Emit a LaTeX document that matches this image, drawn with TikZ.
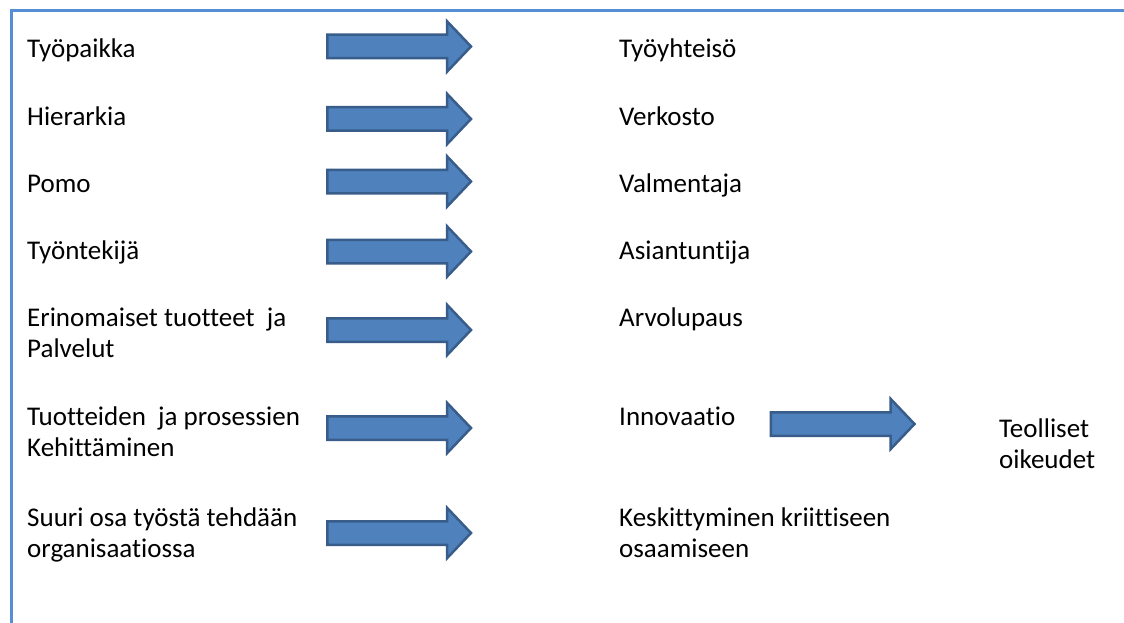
\documentclass[tikz,border=0pt]{standalone}
\usepackage{fontspec}
\setmainfont[Ligatures={NoCommon}]{Carlito}
\definecolor{frameblue}{HTML}{558ED5}
\definecolor{arrowfill}{HTML}{4F81BD}
\definecolor{arrowline}{HTML}{385D8A}
\begin{document}
\begin{tikzpicture}[x=1pt,y=-1pt,
  lbl/.style={anchor=base west,inner sep=0pt,font=\fontsize{27}{31}\selectfont,align=left},
  arrowsty/.style={fill=arrowfill,draw=arrowline,line width=2.5pt,line join=miter},
  barrow/.pic={\path[arrowsty] (-72.25,-11.75) -- (47.5,-11.75) -- (47.5,-25.25) -- (71.5,0) -- (47.5,25.25) -- (47.5,11.75) -- (-72.25,11.75) -- cycle;}]
\useasboundingbox (0,0) rectangle (1124,623);
\fill[white] (0,0) rectangle (1124,623);
\draw[frameblue,line width=3pt] (11,623) coordinate (fb) -- (11,11) coordinate (fc) -- (1124,11) coordinate (fr);
% left column (multi-line nodes are placed by their last baseline)
\node[lbl] (l1) at (27,58) {Työpaikka};
\node[lbl] (l2) at (27,125) {Hierarkia};
\node[lbl] (l3) at (27,192) {Pomo};
\node[lbl] (l4) at (27,259) {Työntekijä};
\node[lbl] (l5) at (27,357) {Erinomaiset tuotteet\ \ ja\\Palvelut};
\node[lbl] (l6) at (27,456) {Tuotteiden\ \ ja prosessien\\Kehittäminen};
\node[lbl] (l7) at (27,557) {Suuri osa työstä tehdään\\organisaatiossa};
% right column
\node[lbl] (r1) at (619,58) {Työyhteisö};
\node[lbl] (r2) at (619,125) {Verkosto};
\node[lbl] (r3) at (619,192) {Valmentaja};
\node[lbl] (r4) at (619,259) {Asiantuntija};
\node[lbl] (r5) at (619,326) {Arvolupaus};
\node[lbl] (r6) at (619,425) {Innovaatio};
\node[lbl] (r7) at (619,557) {Keskittyminen kriittiseen\\osaamiseen};
\node[lbl] (t1) at (999,468) {Teolliset\\oikeudet};
% arrows
\pic (a1) at (399.5,46.5) {barrow};
\pic (a2) at (399.5,119) {barrow};
\pic (a3) at (399.5,181.5) {barrow};
\pic (a4) at (399.5,251.5) {barrow};
\pic (a5) at (399.5,330) {barrow};
\pic (a6) at (399.5,428) {barrow};
\pic (a7) at (399.5,533) {barrow};
\pic (a8) at (843,424) {barrow};
\end{tikzpicture}
\end{document}
